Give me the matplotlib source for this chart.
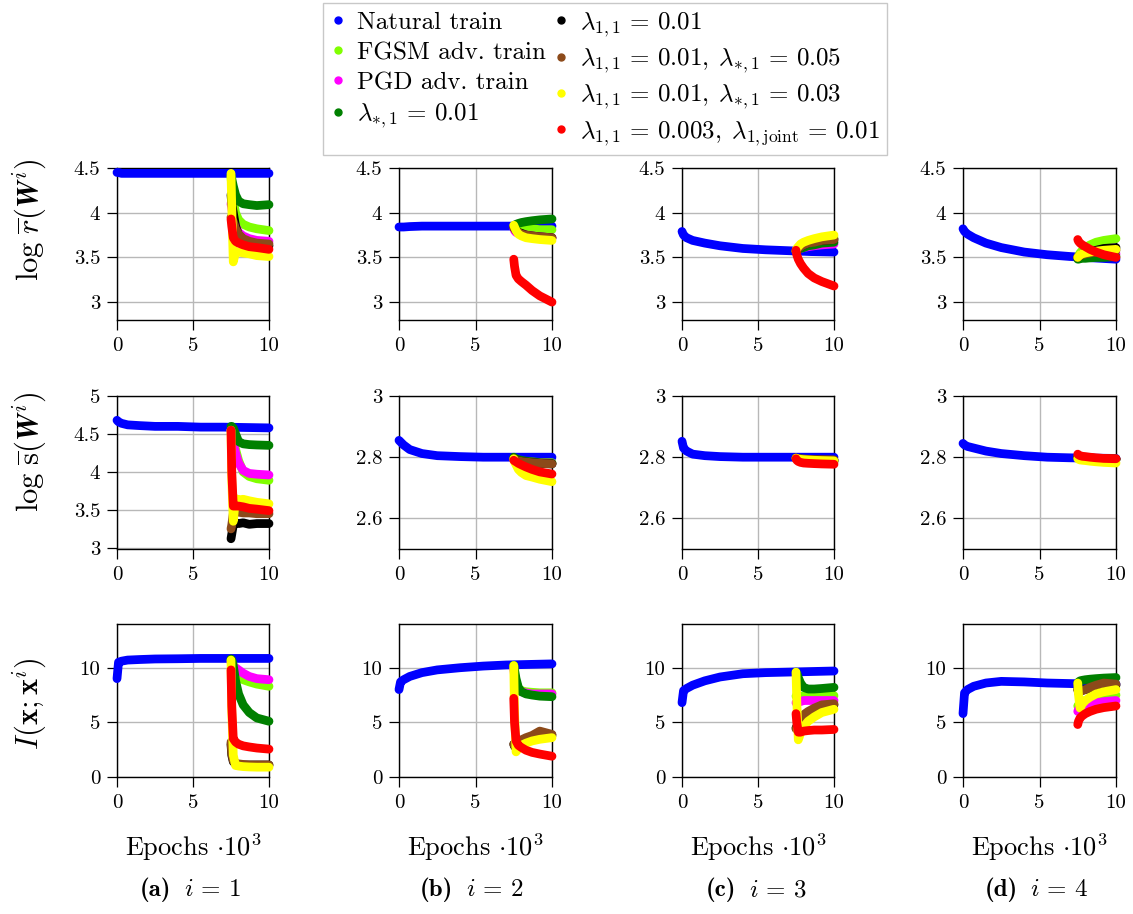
import matplotlib
matplotlib.use("Agg")
import matplotlib.pyplot as plt
from matplotlib.lines import Line2D
from matplotlib.ticker import FuncFormatter

plt.rcParams['font.family'] = 'serif'
plt.rcParams['font.serif'] = ['cmr10']
plt.rcParams['mathtext.fontset'] = 'cm'
plt.rcParams['axes.unicode_minus'] = False

# ---------------- data ----------------
NAT_X = [0, 0.1, 0.3, 0.7, 1.5, 2.5, 4, 5.5, 7, 8.5, 10]
ADV_X = [7.5, 7.55, 7.65, 7.8, 8.0, 8.3, 8.7, 9.2, 10.0]

SERIES = ["Natural train", "FGSM adv. train", "PGD adv. train", r"$\lambda_{*,1}\,=\,0.01$",
          r"$\lambda_{1,1}\,=\,0.01$", r"$\lambda_{1,1}\,=\,0.01,\;\lambda_{*,1}\,=\,0.05$",
          r"$\lambda_{1,1}\,=\,0.01,\;\lambda_{*,1}\,=\,0.03$",
          r"$\lambda_{1,1}\,=\,0.003,\;\lambda_{1,\mathrm{joint}}\,=\,0.01$"]
COLORS = ["#0000ff", "#80ff00", "#ff00ff", "#008000", "#000000", "#8c4a1a", "#ffff00", "#ff0000"]

# Row 1: log r(W^i), columns i=1..4
R_NAT = [[4.45, 4.45, 4.44, 4.44, 4.44, 4.44, 4.44, 4.44, 4.44, 4.44, 4.44],
         [3.84, 3.84, 3.84, 3.845, 3.85, 3.85, 3.85, 3.85, 3.85, 3.85, 3.85],
         [3.79, 3.75, 3.72, 3.69, 3.66, 3.63, 3.60, 3.585, 3.575, 3.565, 3.56],
         [3.82, 3.79, 3.76, 3.72, 3.66, 3.61, 3.56, 3.53, 3.51, 3.495, 3.48]]
R_FGSM = [[4.4, 4.3, 4.15, 4.0, 3.92, 3.87, 3.84, 3.82, 3.80],
          [3.85, 3.84, 3.83, 3.82, 3.82, 3.82, 3.82, 3.81, 3.81],
          [3.57, 3.59, 3.61, 3.63, 3.65, 3.67, 3.69, 3.71, 3.72],
          [3.50, 3.52, 3.55, 3.58, 3.61, 3.64, 3.67, 3.69, 3.71]]
R_PGD = [[4.1, 4.05, 3.95, 3.85, 3.78, 3.74, 3.71, 3.69, 3.68],
         [3.83, 3.80, 3.78, 3.77, 3.76, 3.75, 3.74, 3.73, 3.72],
         [3.57, 3.58, 3.59, 3.60, 3.61, 3.62, 3.63, 3.64, 3.65],
         [3.50, 3.50, 3.51, 3.51, 3.52, 3.52, 3.53, 3.53, 3.54]]
R_STAR = [[4.42, 4.38, 4.3, 4.2, 4.13, 4.1, 4.09, 4.08, 4.09],
          [3.85, 3.86, 3.87, 3.88, 3.89, 3.90, 3.91, 3.92, 3.93],
          [3.57, 3.58, 3.59, 3.60, 3.61, 3.63, 3.64, 3.66, 3.67],
          [3.48, 3.48, 3.485, 3.49, 3.49, 3.495, 3.50, 3.50, 3.51]]
R_L11 = [[4.2, 4.1, 4.0, 3.85, 3.75, 3.7, 3.67, 3.65, 3.63],
         [3.84, 3.82, 3.80, 3.78, 3.77, 3.75, 3.74, 3.73, 3.72],
         [3.57, 3.58, 3.60, 3.62, 3.64, 3.66, 3.68, 3.69, 3.70],
         [3.50, 3.51, 3.52, 3.54, 3.55, 3.57, 3.58, 3.60, 3.61]]
R_L11_05 = [[3.95, 3.93, 3.9, 3.82, 3.76, 3.71, 3.68, 3.66, 3.65],
            [3.84, 3.82, 3.80, 3.78, 3.76, 3.75, 3.74, 3.73, 3.72],
            [3.57, 3.58, 3.60, 3.62, 3.64, 3.66, 3.67, 3.69, 3.70],
            [3.50, 3.51, 3.52, 3.53, 3.54, 3.55, 3.56, 3.57, 3.58]]
R_L11_03 = [[4.44, 4.07, 3.45, 3.56, 3.56, 3.55, 3.54, 3.52, 3.51],
            [3.86, 3.84, 3.80, 3.76, 3.74, 3.72, 3.71, 3.70, 3.69],
            [3.57, 3.60, 3.62, 3.65, 3.67, 3.69, 3.71, 3.73, 3.75],
            [3.50, 3.51, 3.53, 3.54, 3.55, 3.56, 3.57, 3.58, 3.59]]
R_JOINT = [[3.93, 3.85, 3.72, 3.68, 3.66, 3.64, 3.62, 3.61, 3.59],
           [3.48, 3.40, 3.30, 3.26, 3.23, 3.19, 3.13, 3.07, 3.00],
           [3.58, 3.53, 3.48, 3.43, 3.38, 3.32, 3.27, 3.23, 3.18],
           [3.70, 3.68, 3.66, 3.64, 3.62, 3.59, 3.56, 3.53, 3.50]]

# Row 2: log s(W^i)
S_NAT = [[4.68, 4.66, 4.64, 4.62, 4.61, 4.60, 4.60, 4.59, 4.59, 4.585, 4.58],
         [2.855, 2.85, 2.84, 2.825, 2.812, 2.805, 2.802, 2.80, 2.80, 2.80, 2.80],
         [2.852, 2.83, 2.82, 2.81, 2.805, 2.802, 2.80, 2.80, 2.80, 2.80, 2.80],
         [2.845, 2.84, 2.835, 2.83, 2.82, 2.812, 2.805, 2.80, 2.798, 2.797, 2.796]]
S_FGSM = [[4.55, 4.55, 4.45, 4.3, 4.15, 4.0, 3.94, 3.91, 3.89],
          [2.795, 2.79, 2.79, 2.788, 2.786, 2.785, 2.784, 2.783, 2.782],
          [2.797, 2.796, 2.795, 2.794, 2.793, 2.792, 2.791, 2.790, 2.79],
          [2.80, 2.80, 2.80, 2.799, 2.798, 2.797, 2.796, 2.795, 2.794]]
S_PGD = [[4.55, 4.5, 4.4, 4.25, 4.12, 4.02, 3.98, 3.97, 3.96],
         [2.795, 2.792, 2.79, 2.788, 2.786, 2.785, 2.784, 2.782, 2.78],
         [2.797, 2.795, 2.794, 2.793, 2.792, 2.791, 2.79, 2.789, 2.788],
         [2.80, 2.80, 2.80, 2.799, 2.798, 2.797, 2.796, 2.795, 2.794]]
S_STAR = [[4.6, 4.6, 4.58, 4.5, 4.4, 4.37, 4.36, 4.355, 4.35],
          [2.80, 2.798, 2.795, 2.792, 2.79, 2.787, 2.785, 2.782, 2.78],
          [2.797, 2.795, 2.793, 2.791, 2.79, 2.789, 2.788, 2.787, 2.786],
          [2.80, 2.80, 2.799, 2.798, 2.797, 2.796, 2.795, 2.794, 2.793]]
S_L11 = [[3.12, 3.18, 3.3, 3.33, 3.32, 3.33, 3.31, 3.32, 3.32],
         [2.795, 2.792, 2.79, 2.788, 2.786, 2.784, 2.782, 2.78, 2.778],
         [2.797, 2.796, 2.795, 2.794, 2.793, 2.793, 2.792, 2.791, 2.79],
         [2.80, 2.80, 2.80, 2.799, 2.798, 2.797, 2.796, 2.795, 2.794]]
S_L11_05 = [[3.25, 3.3, 3.45, 3.48, 3.47, 3.46, 3.46, 3.45, 3.45],
            [2.795, 2.792, 2.79, 2.788, 2.786, 2.784, 2.782, 2.78, 2.778],
            [2.797, 2.796, 2.795, 2.794, 2.794, 2.793, 2.792, 2.792, 2.791],
            [2.80, 2.80, 2.80, 2.799, 2.798, 2.797, 2.796, 2.795, 2.794]]
S_L11_03 = [[4.55, 3.9, 3.35, 3.65, 3.63, 3.64, 3.62, 3.6, 3.58],
            [2.795, 2.785, 2.775, 2.76, 2.75, 2.74, 2.735, 2.728, 2.72],
            [2.797, 2.795, 2.794, 2.793, 2.792, 2.791, 2.79, 2.789, 2.788],
            [2.795, 2.793, 2.791, 2.79, 2.789, 2.787, 2.785, 2.783, 2.781]]
S_JOINT = [[4.55, 4.0, 3.55, 3.55, 3.55, 3.54, 3.52, 3.51, 3.49],
           [2.79, 2.788, 2.785, 2.78, 2.775, 2.768, 2.76, 2.752, 2.745],
           [2.795, 2.79, 2.786, 2.783, 2.781, 2.78, 2.779, 2.778, 2.777],
           [2.81, 2.808, 2.805, 2.803, 2.802, 2.80, 2.798, 2.796, 2.795]]

# Row 3: I(x; x^i)
I_NAT = [[9.0, 10.5, 10.6, 10.7, 10.75, 10.8, 10.82, 10.85, 10.85, 10.85, 10.85],
         [8.0, 8.7, 8.9, 9.2, 9.55, 9.8, 10.0, 10.15, 10.25, 10.3, 10.35],
         [6.8, 7.9, 8.1, 8.4, 8.8, 9.15, 9.45, 9.55, 9.6, 9.65, 9.7],
         [5.8, 7.7, 8.0, 8.3, 8.6, 8.75, 8.7, 8.6, 8.55, 8.5, 8.5]]
I_FGSM = [[10.7, 10.5, 10.0, 9.5, 9.2, 8.9, 8.7, 8.5, 8.3],
          [10.2, 9.5, 8.7, 8.1, 7.9, 7.8, 7.75, 7.7, 7.7],
          [7.4, 7.4, 7.4, 7.4, 7.4, 7.4, 7.4, 7.45, 7.45],
          [6.5, 6.6, 6.8, 6.9, 7.0, 7.1, 7.2, 7.35, 7.5]]
I_PGD = [[10.5, 10.4, 10.2, 10.0, 9.8, 9.5, 9.2, 9.0, 8.9],
         [10.0, 9.3, 8.5, 8.0, 7.8, 7.7, 7.6, 7.6, 7.6],
         [6.8, 6.8, 6.9, 6.9, 7.0, 7.0, 7.0, 7.0, 7.0],
         [6.0, 6.2, 6.4, 6.5, 6.6, 6.7, 6.8, 6.9, 7.0]]
I_STAR = [[10.8, 10.7, 10.2, 8.8, 7.6, 6.6, 5.9, 5.4, 5.1],
          [10.2, 9.8, 9.0, 8.2, 7.8, 7.6, 7.5, 7.4, 7.35],
          [9.6, 9.5, 9.1, 8.6, 8.2, 8.05, 8.05, 8.1, 8.2],
          [8.6, 8.7, 8.8, 8.85, 8.9, 8.95, 9.0, 9.05, 9.1]]
I_L11 = [[3.0, 2.0, 1.4, 1.2, 1.15, 1.1, 1.1, 1.1, 1.1],
         [3.0, 2.8, 2.9, 3.1, 3.3, 3.5, 3.7, 3.8, 3.8],
         [4.5, 4.6, 5.0, 5.3, 5.6, 5.9, 6.2, 6.4, 6.6],
         [8.0, 7.9, 7.9, 7.95, 8.0, 8.1, 8.2, 8.3, 8.4]]
I_L11_05 = [[3.2, 2.2, 1.5, 1.25, 1.2, 1.15, 1.1, 1.1, 1.1],
            [3.0, 2.9, 3.0, 3.2, 3.4, 3.6, 3.8, 4.2, 3.9],
            [4.4, 4.6, 5.0, 5.4, 5.7, 6.0, 6.3, 6.6, 6.7],
            [8.0, 7.7, 7.8, 7.9, 8.0, 8.2, 8.4, 8.6, 8.5]]
I_L11_03 = [[10.7, 6.0, 2.0, 1.05, 1.0, 0.95, 0.92, 0.9, 0.9],
            [10.2, 6.0, 2.3, 2.6, 2.9, 3.1, 3.3, 3.45, 3.6],
            [9.6, 7.0, 3.4, 4.0, 4.6, 5.1, 5.5, 5.9, 6.2],
            [8.6, 7.5, 6.3, 6.7, 7.0, 7.3, 7.6, 7.8, 8.0]]
I_JOINT = [[9.8, 6.5, 3.5, 3.2, 3.0, 2.85, 2.75, 2.65, 2.55],
           [7.2, 5.0, 3.3, 2.9, 2.7, 2.45, 2.25, 2.1, 1.9],
           [5.8, 5.0, 4.1, 4.1, 4.2, 4.25, 4.3, 4.3, 4.35],
           [4.8, 5.1, 5.4, 5.6, 5.8, 6.0, 6.2, 6.35, 6.5]]

ROWS = [
    [R_NAT, R_FGSM, R_PGD, R_STAR, R_L11, R_L11_05, R_L11_03, R_JOINT],
    [S_NAT, S_FGSM, S_PGD, S_STAR, S_L11, S_L11_05, S_L11_03, S_JOINT],
    [I_NAT, I_FGSM, I_PGD, I_STAR, I_L11, I_L11_05, I_L11_03, I_JOINT],
]
YLABELS = [r"$\log\,\overline{r}(\mathbfit{W}^i)$",
           r"$\log\,\overline{\mathrm{s}}(\mathbfit{W}^i)$",
           r"$I(\mathbf{x};\mathbf{x}^i)$"]
CAP_TAGS = ["(a)", "(b)", "(c)", "(d)"]
CAP_MATH = [r"$i\,=\,1$", r"$i\,=\,2$", r"$i\,=\,3$", r"$i\,=\,4$"]
XTICKS = [0, 5, 10]

# ---------------- layout ----------------
W, H = 1133, 914
fig = plt.figure(figsize=(W / 100, H / 100), dpi=100)

col_px = [(117, 269), (399, 552), (682, 834), (963, 1116)]
row_px = [(168, 320), (396, 549), (624, 777)]
ylims = [[(2.8, 4.5)] * 4,
         [(2.985, 5.0)] + [(2.5, 3.0)] * 3,
         [(0, 14)] * 4]
yticks = [[[3, 3.5, 4, 4.5]] * 4,
          [[3, 3.5, 4, 4.5, 5]] + [[2.6, 2.8, 3]] * 3,
          [[0, 5, 10]] * 4]

fmt = FuncFormatter(lambda v, p: "%g" % v)
LW = 6.3

for r in range(3):
    for c in range(4):
        x0, x1 = col_px[c]
        y0, y1 = row_px[r]
        ax = fig.add_axes([x0 / W, 1 - y1 / H, (x1 - x0) / W, (y1 - y0) / H])
        ax.set_xlim(0, 10)
        ax.set_ylim(*ylims[r][c])
        ax.set_xticks(XTICKS)
        ax.set_yticks(yticks[r][c])
        ax.xaxis.set_major_formatter(fmt)
        ax.yaxis.set_major_formatter(fmt)
        ax.grid(True, color="#b8b8b8", lw=1.0)
        ax.set_axisbelow(True)
        ax.tick_params(direction="out", length=7, width=0.9, labelsize=15, pad=5)
        for sp in ax.spines.values():
            sp.set_linewidth(1.0)
        for k, data in enumerate(ROWS[r]):
            xs = NAT_X if k == 0 else ADV_X
            ax.plot(xs, data[c], color=COLORS[k], lw=LW, solid_capstyle="round",
                    solid_joinstyle="round", clip_on=False, zorder=3 + k)

# y labels
ylab_y = [220, 452, 704]
for r in range(3):
    fig.text(30 / W, 1 - ylab_y[r] / H, YLABELS[r], rotation=90, fontsize=22,
             ha="center", va="center")

# x labels and captions
for c in range(4):
    xcp = (col_px[c][0] + col_px[c][1]) / 2
    fig.text(xcp / W, 1 - 847 / H, r"Epochs $\cdot10^3$", fontsize=19, ha="center", va="center")
    fig.text((xcp - 22) / W, 1 - 890 / H, CAP_TAGS[c], fontsize=18, family="cmb10",
             ha="right", va="center")
    fig.text((xcp - 9) / W, 1 - 890 / H, CAP_MATH[c], fontsize=18, ha="left", va="center")

# legend
handles = [Line2D([], [], color=COLORS[k], marker="o", ls="none", markersize=5)
           for k in range(8)]
leg = fig.legend(handles, SERIES, loc="upper center", bbox_to_anchor=(605 / W, 1.0),
                 ncol=2, fontsize=18, frameon=True, fancybox=False,
                 edgecolor="#c8c8c8", framealpha=1, handlelength=0.6,
                 handletextpad=0.45, columnspacing=0.3, borderpad=0.3,
                 labelspacing=0.3, borderaxespad=0.1)
leg.get_frame().set_linewidth(1.0)

fig.savefig("out.png", dpi=100)
